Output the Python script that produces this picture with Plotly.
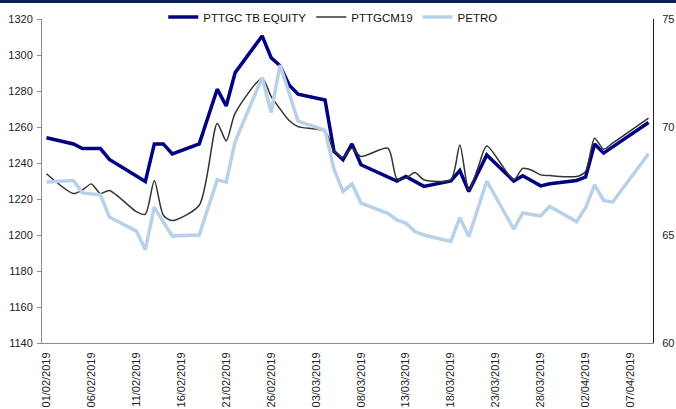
import plotly.graph_objects as go

dates = ["2019-02-01", "2019-02-04", "2019-02-05", "2019-02-06", "2019-02-07", "2019-02-08",
         "2019-02-11", "2019-02-12", "2019-02-13", "2019-02-14", "2019-02-15", "2019-02-18",
         "2019-02-20", "2019-02-21", "2019-02-22", "2019-02-25", "2019-02-26", "2019-02-27",
         "2019-02-28", "2019-03-01", "2019-03-04", "2019-03-05", "2019-03-06", "2019-03-07",
         "2019-03-08", "2019-03-11", "2019-03-12", "2019-03-13", "2019-03-14", "2019-03-15",
         "2019-03-18", "2019-03-19", "2019-03-20", "2019-03-21", "2019-03-22", "2019-03-25",
         "2019-03-26", "2019-03-27", "2019-03-28", "2019-03-29", "2019-04-01", "2019-04-02",
         "2019-04-03", "2019-04-04", "2019-04-05", "2019-04-09"]

pttgc = [1254, 1250.6, 1248, 1248, 1248, 1242,
         1233, 1229.7, 1250.6, 1250.6, 1245, 1250.6,
         1281, 1271.7, 1290.2, 1310.6, 1298.5, 1294,
         1283.4, 1278.2, 1275, 1246.4, 1241.8, 1250.6,
         1239, 1232.2, 1230, 1232.5, 1229.7, 1227,
         1230, 1235.8, 1224.2, 1234.3, 1244.5, 1230,
         1232.9, 1230.1, 1227.3, 1228.5, 1230.3, 1232.2,
         1250.6, 1245.5, 1249, 1262.5]

pttgcm19 = [1234, 1223, 1225, 1228.4, 1223, 1224.7,
            1213, 1211.5, 1230.3, 1211, 1208, 1216.5,
            1262, 1252.3, 1267.7, 1287, 1277, 1270,
            1263.6, 1260.2, 1257.5, 1246.5, 1243.2, 1248.2,
            1243.6, 1248.2, 1231.2, 1231.6, 1234.7, 1230.7,
            1230.7, 1250, 1225, 1237, 1249.5, 1230.7,
            1237, 1236, 1233.4, 1233, 1232.5, 1235.3,
            1253.8, 1247.7, 1251, 1264.9]

petro = [67.45, 67.52, 66.95, 66.9, 66.86, 65.83,
         65.18, 64.32, 66.29, 65.6, 64.96, 65.0,
         67.55, 67.45, 69.33, 72.29, 70.68, 72.87,
         71.5, 70.27, 69.85, 68.05, 67.01, 67.37,
         66.48, 66.0, 65.7, 65.55, 65.16, 65.0,
         64.7, 65.8, 64.93, 66.2, 67.5, 65.27,
         66.02, 65.95, 65.89, 66.32, 65.62, 66.26,
         67.32, 66.6, 66.52, 68.76]

left_ticks = [1140, 1160, 1180, 1200, 1220, 1240, 1260, 1280, 1300, 1320]
right_ticks = [60, 65, 70, 75]

FONT = "Arial, Liberation Sans, sans-serif"

fig = go.Figure()
fig.add_trace(go.Scatter(x=dates, y=pttgc, name="PTTGC TB EQUITY", mode="lines",
                         line=dict(color="#000080", width=3.5)))
fig.add_trace(go.Scatter(x=dates, y=pttgcm19, name="PTTGCM19", mode="lines",
                         line=dict(color="#333333", width=1.5, shape="spline", smoothing=0.7)))
fig.add_trace(go.Scatter(x=dates, y=petro, name="PETRO", mode="lines", yaxis="y2",
                         line=dict(color="#b8d0e8", width=3.5)))

fig.update_layout(
    width=676, height=409,
    margin=dict(l=42, r=23, t=19, b=66, autoexpand=False),
    paper_bgcolor="white", plot_bgcolor="white",
    font=dict(family=FONT, size=11, color="#222222"),
    showlegend=True,
    legend=dict(orientation="h", xref="container", yref="container",
                x=0.493, xanchor="center", y=1 - 17 / 409, yanchor="middle",
                font=dict(family=FONT, size=11.5, color="#111111"),
                bgcolor="rgba(0,0,0,0)", itemwidth=30, tracegroupgap=0),
    xaxis=dict(type="date", range=["2019-01-31 12:00", "2019-04-09 12:00"],
               tick0="2019-02-01", dtick=5 * 86400000, tickformat="%d/%m/%Y",
               tickangle=-90, showgrid=False, zeroline=False, automargin=False,
               showline=True, linecolor="#8c8c8c", linewidth=1, ticklabelstandoff=4,
               ticks="", tickfont=dict(size=11, color="#222222")),
    yaxis=dict(range=[1140, 1320], tickvals=left_ticks, showgrid=False, zeroline=False,
               automargin=False, showline=True, linecolor="#8c8c8c", linewidth=1,
               ticks="outside", ticklen=4, tickcolor="#8c8c8c", ticklabelstandoff=2,
               tickfont=dict(size=11, color="#222222")),
    yaxis2=dict(range=[60, 75], tickvals=right_ticks, overlaying="y", side="right",
                automargin=False, showgrid=False, zeroline=False, showline=True,
                linecolor="#222222", linewidth=1, ticklabelstandoff=6,
                ticks="", tickfont=dict(size=11, color="#222222")),
)

# dark frame line along the top edge of the picture
fig.add_shape(type="line", xref="paper", yref="paper",
              x0=-42 / 611, x1=1 + 23 / 611, y0=1 + 17.5 / 324, y1=1 + 17.5 / 324,
              line=dict(color="#0a1f5c", width=3), layer="above")

fig.write_html("out.html", config={"displayModeBar": False},
               post_script="document.body.style.margin='0';document.body.style.overflow='hidden';")
